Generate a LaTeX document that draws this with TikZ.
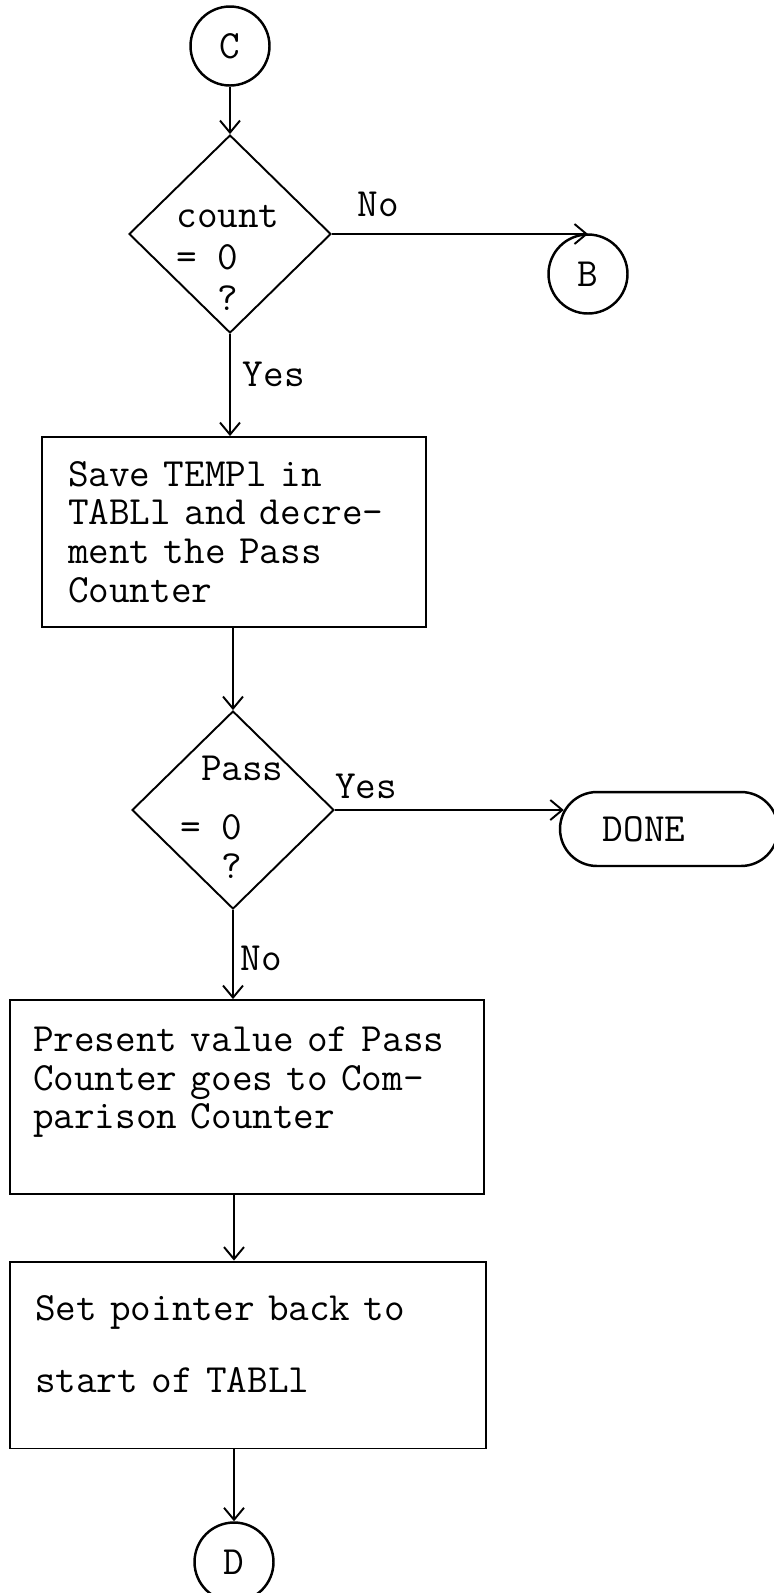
\documentclass[tikz,border=0pt]{standalone}
\usepackage{fontspec}
\usetikzlibrary{shapes.geometric,shapes.misc,arrows.meta}

\begin{document}
\begin{tikzpicture}[x=0.02cm,y=-0.02cm,
            font=\ttfamily\fontsize{22.8}{22}\selectfont,
            line width=1.1pt,
            >={Straight Barb[length=2.4mm,width=4mm]},
            conn/.style={shape=circle, draw, line width=1.4pt, minimum size=1.58cm, inner sep=0pt},
            decision/.style={shape=diamond, draw, minimum width=4.04cm, minimum height=3.96cm, inner sep=0pt},
            process/.style={shape=rectangle, draw, align=left, inner ysep=0pt},
            terminal/.style={shape=rounded rectangle, draw, line width=1.4pt, minimum width=4.36cm, minimum height=1.48cm, inner sep=0pt}]
        \useasboundingbox (0,0) rectangle (774,1593);

        \node[conn] (c) at (230,46) {C};
        \node[decision] (d1) at (230,234) {};
        \node[align=left, inner sep=0pt] (d1txt) at (228,258) {count\\[0.05cm]= 0\\[0.05cm]\phantom{xx}?};
        \node[conn] (b) at (588,274) {B};

        \node[process, text width=6.64cm, inner xsep=0.52cm, minimum height=3.8cm] (box1) at (234,532)
            {Save TEMPl in\\TABLl and decre-\\ment the Pass\\Counter};

        \node[decision] (d2) at (233,810) {};
        \node[align=left, inner sep=0pt] (d2txt) at (232,817) {\phantom{x}Pass\\[0.42cm]= 0\\\phantom{xx}?};
        \node[terminal, label={[name=donetxt, xshift=-0.5cm]center:DONE}] (done) at (669,829) {};

        \node[process, text width=8.56cm, inner xsep=0.46cm, minimum height=3.88cm] (box2) at (247,1097)
            {Present value of Pass\\Counter goes to Com-\\parison Counter\\\mbox{}};
        \node[process, text width=8.52cm, inner xsep=0.5cm, minimum height=3.74cm] (box3) at (248,1355)
            {Set pointer back to\\[0.66cm]start of TABLl\\[-0.34cm]\mbox{}};

        \node[conn] (d) at (234,1562) {D};

        \draw[->] (c) -- (d1);
        \draw[->] (d1.east) -- node[above=0.2cm, pos=0.18] (no1) {No} (d1.east -| b.north);
        \draw[->] (d1.south) -- node[right=0.12cm, pos=0.4] (yes1) {Yes} (d1.south |- box1.north);
        \draw[->] (d2.north |- box1.south) -- (d2.north);
        \draw[->, shorten >=-0.1cm] (d2.east) -- node[above=0.08cm, pos=0.14] (yes2) {Yes} (d2.east -| done.west);
        \draw[->] (d2.south) -- node[right=0.02cm, pos=0.54] (no2) {No} (d2.south |- box2.north);
        \draw[->] (box2.south -| d.north) -- (box3.north -| d.north);
        \draw[->] (box3.south -| d.north) -- (d.north);
    \end{tikzpicture}
\end{document}
